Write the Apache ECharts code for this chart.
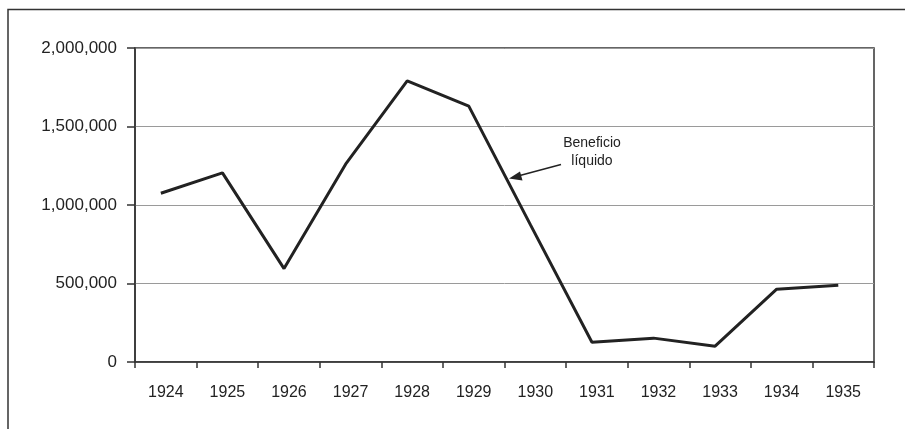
<!DOCTYPE html>
<html>
<head>
<meta charset="utf-8">
<script src="https://cdn.jsdelivr.net/npm/echarts@6/dist/echarts.min.js"></script>
<style>
  html, body { margin: 0; padding: 0; background: #fff; }
  #chart { width: 905px; height: 429px; }
</style>
</head>
<body>
<div id="chart"></div>
<script>
// Beneficio líquido, 1924-1935
const years = ['1924', '1925', '1926', '1927', '1928', '1929', '1930', '1931', '1932', '1933', '1934', '1935']
const profit = [1075000, 1205000, 595000, 1260000, 1790000, 1630000, 875000, 126000, 152000, 101000, 464000, 489000]
const yTicks = [0, 500000, 1000000, 1500000, 2000000]
const seriesLabel = ['Beneficio', 'líquido']

const INK = '#222'
const FONT = '"Liberation Sans", Arial, sans-serif'

function fmt(v) {
  return String(v).replace(/\B(?=(\d{3})+(?!\d))/g, ',')
}

const chart = echarts.init(document.getElementById('chart'))

chart.setOption({
  backgroundColor: '#fff',
  animation: false,
  grid: {
    left: 135,
    right: 31,
    top: 48,
    bottom: 67,
    show: true,
    borderColor: '#333',
    borderWidth: 1.5
  },
  xAxis: [
    {
      type: 'category',
      data: years,
      boundaryGap: true,
      axisLine: { lineStyle: { color: '#333', width: 1.5 } },
      axisTick: { show: true, interval: 0, length: 6, lineStyle: { color: '#333', width: 1.5 } },
      axisLabel: { color: INK, fontFamily: FONT, fontSize: 16, margin: 23, interval: 0 },
      splitLine: { show: false }
    },
    {
      // hidden numeric axis the line is plotted on (points sit slightly left of band centres)
      type: 'value',
      min: 1923.58,
      max: 1935.58,
      show: false
    }
  ],
  yAxis: {
    type: 'value',
    min: yTicks[0],
    max: yTicks[yTicks.length - 1],
    interval: yTicks[1] - yTicks[0],
    axisLine: { show: true, lineStyle: { color: '#333', width: 1.5 } },
    axisTick: { show: true, length: 8, lineStyle: { color: '#333', width: 1.5 } },
    axisLabel: { color: INK, fontFamily: FONT, fontSize: 17, margin: 18, formatter: fmt },
    splitLine: { show: true, lineStyle: { color: '#9a9a9a', width: 1 } }
  },
  series: [
    {
      name: 'Beneficio líquido',
      type: 'line',
      xAxisIndex: 1,
      showSymbol: false,
      lineStyle: { color: INK, width: 3 },
      data: years.map((y, i) => [Number(y), profit[i]])
    }
  ],
  graphic: [
    {
      type: 'rect',
      shape: { x: 8, y: 9.5, width: 1000, height: 1000 },
      style: { fill: 'none', stroke: '#333', lineWidth: 1.5 },
      silent: true
    },
    {
      type: 'text',
      x: 592,
      y: 152,
      style: {
        text: seriesLabel.join('\n'),
        fill: INK,
        font: '14px ' + FONT,
        align: 'center',
        verticalAlign: 'middle',
        lineHeight: 18
      }
    },
    {
      type: 'line',
      shape: { x1: 561, y1: 164.5, x2: 518, y2: 176 },
      style: { stroke: INK, lineWidth: 1.5 }
    },
    {
      type: 'polygon',
      shape: { points: [[509, 178.5], [520, 171.5], [522.5, 180.5]] },
      style: { fill: INK }
    }
  ]
})
</script>
</body>
</html>
